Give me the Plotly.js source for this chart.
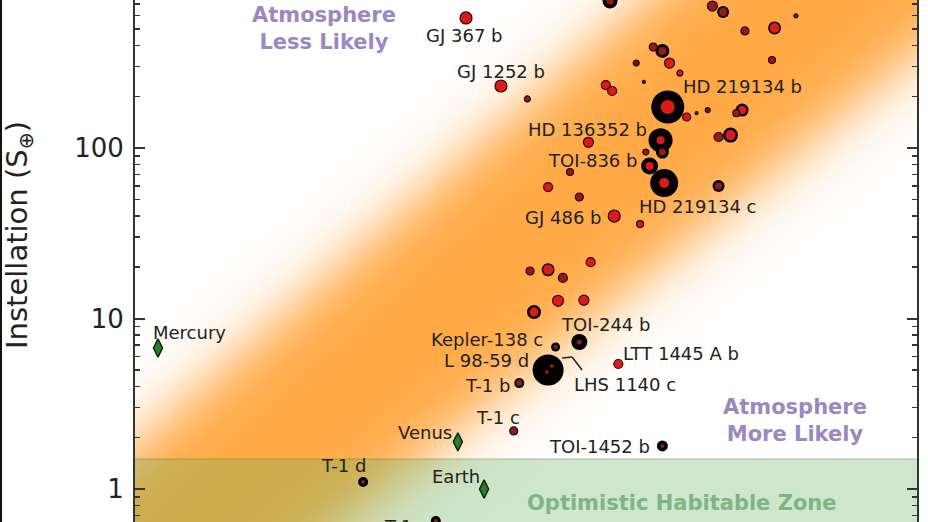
<!DOCTYPE html>
<html><head><meta charset="utf-8">
<script src="https://cdn.plot.ly/plotly-3.0.1.min.js"></script>
<style>
html,body{margin:0;padding:0;width:928px;height:522px;overflow:hidden;background:#fff;}
#plot{position:absolute;left:0;top:-70px;width:928px;height:670px;}
#edge{position:absolute;left:0;top:0;width:2px;height:522px;background:#111;}
</style></head><body>
<div id="plot"></div><div id="edge"></div>
<script>
// ---------------- data ----------------
const planetName = ["","","","","","","","","","","","",
  "GJ 1252 b","GJ 367 b","HD 219134 b","","","","","","","","","","","",
  "HD 136352 b","","","","TOI-836 b","","HD 219134 c","","","",
  "GJ 486 b","","","","","","","","",
  "TOI-244 b","Kepler-138 c","LHS 1140 c","L 98-59 d","",
  "T-1 b","LTT 1445 A b","T-1 c","T-1 d","TOI-1452 b","T-1 e"];
// escape velocity (km/s)
const vEsc = [16.2,21.9,22.6,18.4,18.9,17.5,19.3,19.9,17.9,16.0,16.3,12.7,
  11.75,10.6,19.2,20.3,20.9,21.6,23.9,23.5,23.1,22.3,24.1,26.3,28.0,26.1,
  18.8,18.9,15.2,18.0,18.2,14.4,19.0,13.5,14.8,22.3,
  16.4,17.7,12.8,13.5,14.1,15.3,13.9,15.0,12.95,
  14.8,13.8,13.5,13.45,13.65,
  12.4,16.6,12.2,7.83,18.9,9.70];
// instellation (S_earth)
const instellation = [728,680,628,391,371,315,315,275,244,234,216,194,
  231,579,174,152,160,167,167,160,119,116,486,506,595,328,
  111,94.7,108,94.7,78.4,72.3,62.3,59.0,51.6,59.8,
  39.9,35.8,19.0,19.3,17.3,21.4,12.7,12.8,10.9,
  7.28,6.81,4.99,4.86,5.26,
  4.18,5.41,2.19,1.10,1.79,0.649];
// marker encodings (outer black ring size, inner dot size, dot colour class)
const ringSizePx = [15,0,12,0,14,0,0,0,0,0,0,0,
  0,0,33,0,0,0,13,0,15,0,0,13,0,0,
  24,13,0,0,17,0,28,0,0,12,
  0,0,0,13,0,0,0,0,14,
  16,9,31,0,0,
  10,0,0,10,11,10];
const dotSizePx = [7,10,8,8,8,6,10,6,3,9,9,6,
  12,12,14,8,3,5,8,7,10,9,8,10,4,7,
  8,7,10,6,8,7,10,9,8,7,
  12,7,8,10,9,9,11,10,9,
  5,4,0,4,4,
  6,9,8,4,4,4];
const dotClass = ["D","D","D","D","D","B","R","R","B","R","R","D",
  "R","R","R","R","B","B","R","D","R","D","D","R","B","D",
  "R","D","R","D","R","D","R","R","D","D",
  "R","R","D","R","D","R","R","R","R",
  "D","D","R","R","R",
  "D","R","M","M","M","M"];

const solarName = ["Mercury","Venus","Earth"];
const solarVEsc = [4.28,10.35,11.18];
const solarInst = [6.71,1.89,1.0];

const hzUpper = 1.5, hzLower = 0.1;       // optimistic habitable zone (S_earth)
// cosmic-shoreline band edges: log10(S) = slope*log10(v) + c
const bandUpper = {slope:4.01, c:-2.15};
const bandLower = {slope:3.76, c:-3.47};
const bandSoftness = 0.13;

const yTickVals = [1,10,100];
const yTickText = ["1","10","100"];

// ---------------- styles ----------------
const classColor = {R:"#dc1a1c", D:"#931b1b", B:"#5e2412", M:"#7d1f35"};
const labelOffsets = {
 "GJ 367 b":[-2,-18], "GJ 1252 b":[0,15], "HD 219134 b":[75,20],
 "HD 136352 b":[-73,11], "TOI-836 b":[-57,6], "HD 219134 c":[33,-23],
 "GJ 486 b":[-51,-1], "TOI-244 b":[26,18], "Kepler-138 c":[-69,7],
 "L 98-59 d":[-60,11], "LHS 1140 c":[77,-15], "LTT 1445 A b":[63,10],
 "T-1 b":[-32,-2], "T-1 c":[-16,13], "T-1 d":[-20,16], "TOI-1452 b":[-63,-1],
 "T-1 e":[-29,-5], "Mercury":[32,16], "Venus":[-33,9], "Earth":[-28,13]
};
const FONT = "DejaVu Sans";

// ---------------- shoreline band (background) ----------------
const gx=[], gy=[], gz=[];
for(let i=0;i<=120;i++) gx.push(Math.pow(10,0.5+i*0.01));
for(let j=0;j<=170;j++) gy.push(Math.pow(10,-0.6+j*0.025));
const sig = t => 1/(1+Math.exp(-t/bandSoftness));
for(let j=0;j<gy.length;j++){
  const row=[]; const ly=Math.log10(gy[j]);
  for(let i=0;i<gx.length;i++){
    const lv=Math.log10(gx[i]);
    const up = bandUpper.slope*lv+bandUpper.c, lo = bandLower.slope*lv+bandLower.c;
    row.push(sig(up-ly)*sig(ly-lo));
  }
  gz.push(row);
}

const traces=[];
traces.push({type:"heatmap",x:gx,y:gy,z:gz,zsmooth:"best",zmin:0,zmax:1,
  colorscale:[[0,"#ffffff"],[1,"#ffa945"]],showscale:false,hoverinfo:"skip"});
traces.push({type:"scatter",mode:"lines",x:[3,50,50,3,3],y:[hzLower,hzLower,hzUpper,hzUpper,hzLower],
  fill:"toself",fillcolor:"rgba(90,175,90,0.3)",line:{color:"rgba(110,120,60,0.45)",width:1},hoverinfo:"skip"});

// rings
const ri=[...vEsc.keys()].filter(i=>ringSizePx[i]>0);
traces.push({type:"scatter",mode:"markers",x:ri.map(i=>vEsc[i]),y:ri.map(i=>instellation[i]),
  marker:{size:ri.map(i=>ringSizePx[i]),color:"#000",opacity:1,line:{width:0}},hoverinfo:"skip"});
// dots
const di=[...vEsc.keys()].filter(i=>dotSizePx[i]>0);
traces.push({type:"scatter",mode:"markers",x:di.map(i=>vEsc[i]),y:di.map(i=>instellation[i]),
  text:di.map(i=>planetName[i]),
  marker:{size:di.map(i=>dotSizePx[i]),opacity:1,color:di.map(i=>classColor[dotClass[i]]),
    line:{color:"#2b0606",width:di.map(i=>ringSizePx[i]>0?0:1.2)}}});
// solar system
traces.push({type:"scatter",mode:"markers",x:solarVEsc,y:solarInst,text:solarName,
  marker:{symbol:"diamond-tall",size:13,opacity:1,color:"#2a7d2a",line:{color:"#0d260d",width:1.5}}});

// labels
const annotations=[];
function addLabel(name,v,inst){
  const o=labelOffsets[name]; if(!o) return;
  annotations.push({x:Math.log10(v),y:Math.log10(inst),xref:"x",yref:"y",text:name,showarrow:false,
    xshift:o[0],yshift:o[1],xanchor:"center",yanchor:"middle",font:{family:FONT,size:18,color:"#222"}});
}
planetName.forEach((n,i)=>{ if(n) addLabel(n,vEsc[i],instellation[i]); });
solarName.forEach((n,i)=>addLabel(n,solarVEsc[i],solarInst[i]));

const purple="#9a88c2", green="#82b382";
annotations.push({xref:"paper",yref:"paper",x:0.2417,y:0.8385,text:"Atmosphere<br>Less Likely",showarrow:false,
  font:{family:FONT,size:21,color:purple,weight:"bold"},xanchor:"center",yanchor:"middle"});
annotations.push({xref:"paper",yref:"paper",x:0.844,y:0.1967,text:"Atmosphere<br>More Likely",showarrow:false,
  font:{family:FONT,size:21,color:purple,weight:"bold"},xanchor:"center",yanchor:"middle"});
annotations.push({xref:"paper",yref:"paper",x:0.699,y:0.0607,text:"Optimistic Habitable Zone",showarrow:false,
  font:{family:FONT,size:21,color:green,weight:"bold"},xanchor:"center",yanchor:"middle"});

// leader line for LHS 1140 c
const li=planetName.indexOf("LHS 1140 c");
const shapes=[
 {type:"line",xref:"x",yref:"y",xsizemode:"pixel",ysizemode:"pixel",xanchor:vEsc[li],yanchor:instellation[li],
  x0:14,x1:24,y0:12,y1:13,line:{color:"#222",width:1.5}},
 {type:"line",xref:"x",yref:"y",xsizemode:"pixel",ysizemode:"pixel",xanchor:vEsc[li],yanchor:instellation[li],
  x0:24,x1:34,y0:13,y1:-3,line:{color:"#222",width:1.5}}
];

const layout={
  width:928,height:670,margin:{l:135,r:11,t:0,b:60},
  paper_bgcolor:"#fff",plot_bgcolor:"#fff",showlegend:false,
  font:{family:FONT,color:"#222"},
  xaxis:{type:"log",range:[Math.log10(4),Math.log10(40)],showticklabels:false,ticks:"",showgrid:false,zeroline:false,showline:false},
  yaxis:{type:"log",range:[-0.2991,3.2786],showgrid:false,zeroline:false,
    showline:true,linecolor:"#333",linewidth:2,mirror:"ticks",
    ticks:"inside",ticklen:10,tickwidth:2,tickcolor:"#333",
    tickmode:"array",tickvals:yTickVals,ticktext:yTickText,ticklabelstandoff:4,
    tickfont:{family:FONT,size:26,color:"#222"},
    minor:{ticks:"inside",ticklen:5,tickwidth:1.5,tickcolor:"#333",dtick:"D1",showgrid:false},
    title:{text:"Instellation (S<sub>⊕</sub>)",font:{family:FONT,size:29,color:"#222"},standoff:38}},
  annotations:annotations,shapes:shapes
};
Plotly.newPlot("plot",traces,layout,{staticPlot:true});
</script></body></html>
